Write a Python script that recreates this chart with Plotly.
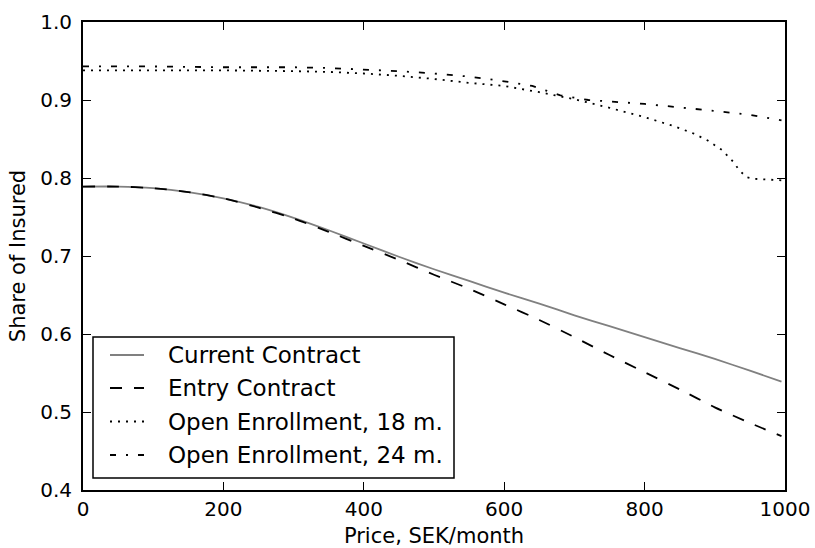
import plotly.graph_objects as go

# ---- data ----
price_main = [0, 50, 100, 150, 200, 250, 300, 350, 400, 450, 500, 550, 600,
              650, 700, 750, 800, 850, 900, 950, 995]
current_contract = [0.789, 0.789, 0.787, 0.782, 0.774, 0.763, 0.749, 0.733, 0.716,
                    0.699, 0.683, 0.668, 0.653, 0.639, 0.624, 0.610, 0.596, 0.582,
                    0.568, 0.553, 0.539]
entry_contract = [0.789, 0.789, 0.787, 0.782, 0.774, 0.762, 0.748, 0.731, 0.713,
                  0.695, 0.676, 0.658, 0.638, 0.618, 0.596, 0.573, 0.551, 0.529,
                  0.506, 0.486, 0.469]

price_18 = [0, 100, 200, 300, 350, 400, 450, 500, 550, 600, 650, 700, 750, 800,
            840, 870, 890, 910, 925, 935, 945, 955, 970, 995]
open_18 = [0.938, 0.938, 0.938, 0.937, 0.936, 0.934, 0.931, 0.927, 0.922, 0.918,
           0.910, 0.901, 0.890, 0.878, 0.867, 0.857, 0.848, 0.836, 0.822, 0.810,
           0.801, 0.799, 0.798, 0.797]

price_24 = [0, 100, 200, 300, 350, 400, 450, 500, 550, 600, 640, 660, 680, 720,
            800, 900, 950, 995]
open_24 = [0.943, 0.943, 0.942, 0.942, 0.941, 0.939, 0.937, 0.934, 0.930, 0.924,
           0.918, 0.912, 0.906, 0.900, 0.895, 0.886, 0.881, 0.874]

series_names = ["Current Contract", "Entry Contract",
                "Open Enrollment, 18 m.", "Open Enrollment, 24 m."]

x_ticks = [0, 200, 400, 600, 800, 1000]
y_ticks = [0.4, 0.5, 0.6, 0.7, 0.8, 0.9, 1.0]

# ---- styling ----
FONT = "DejaVu Sans"
W, H = 815, 548
ML, MR, MT, MB = 83, 30, 22, 58
PW, PH = W - ML - MR, H - MT - MB

styles = [
    dict(color="#808080", width=1.8, dash="solid"),
    dict(color="black", width=1.8, dash="12px,12px"),
    dict(color="black", width=1.8, dash="2px,6px"),
    dict(color="black", width=1.8, dash="6px,10px,2px,10px"),
]

fig = go.Figure()
data = [(price_main, current_contract), (price_main, entry_contract),
        (price_18, open_18), (price_24, open_24)]
for (xs, ys), name, st in zip(data, series_names, styles):
    line = dict(st)
    if name in ("Current Contract", "Entry Contract"):
        line.update(shape="spline", smoothing=0.6)
    fig.add_trace(go.Scatter(x=xs, y=ys, mode="lines", name=name,
                             line=line, showlegend=False))

axis_common = dict(
    showline=True, linecolor="black", linewidth=2, mirror="ticks",
    ticks="inside", ticklen=8, tickwidth=1, tickcolor="black",
    showgrid=False, zeroline=False,
    tickfont=dict(family=FONT, size=20, color="black"),
)

fig.update_xaxes(range=[0, 1000], tickvals=x_ticks, ticktext=[str(v) for v in x_ticks],
                 title=dict(text="Price, SEK/month", standoff=13,
                            font=dict(family=FONT, size=21, color="black")),
                 ticklabelstandoff=0, **axis_common)
fig.update_yaxes(range=[0.4, 1.0], tickvals=y_ticks, ticktext=[f"{v:.1f}" for v in y_ticks],
                 title=dict(text="Share of Insured", standoff=9,
                            font=dict(family=FONT, size=21, color="black")),
                 ticklabelstandoff=5, **axis_common)

# ---- legend drawn in paper coordinates (pixel layout converted) ----
def px_x(X):
    return (X - ML) / PW

def px_y(Y):
    return (H - MB - Y) / PH

shapes = [dict(type="rect", xref="paper", yref="paper",
               x0=px_x(93), x1=px_x(454), y0=px_y(478), y1=px_y(337),
               line=dict(color="black", width=1.5), fillcolor="white", layer="above")]
annotations = []
row_y = [355, 388, 421.5, 455]
for name, st, ry in zip(series_names, styles, row_y):
    shapes.append(dict(type="line", xref="paper", yref="paper",
                       x0=px_x(110), x1=px_x(144), y0=px_y(ry), y1=px_y(ry),
                       line=dict(color=st["color"], width=st["width"], dash=st["dash"]),
                       layer="above"))
    annotations.append(dict(xref="paper", yref="paper", x=px_x(166), y=px_y(ry),
                            xanchor="left", yanchor="middle", showarrow=False,
                            text=name, font=dict(family=FONT, size=23, color="black")))

fig.update_layout(
    width=W, height=H,
    margin=dict(l=ML, r=MR, t=MT, b=MB, autoexpand=False),
    plot_bgcolor="white", paper_bgcolor="white",
    font=dict(family=FONT, size=20, color="black"),
    showlegend=False,
    shapes=shapes, annotations=annotations,
)

fig.write_html("out.html", config={"displayModeBar": False},
               post_script="document.body.style.margin='0';document.body.style.padding='0';")
